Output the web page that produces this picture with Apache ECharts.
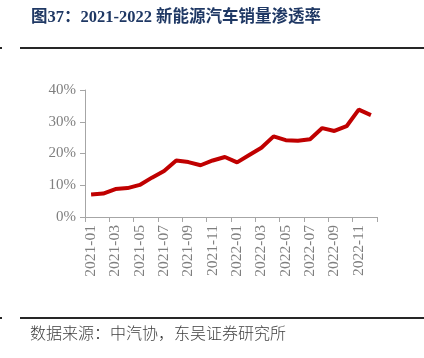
<!DOCTYPE html>
<html><head><meta charset="utf-8">
<script src="https://cdn.jsdelivr.net/npm/echarts@6/dist/echarts.min.js"></script>
<style>html,body{margin:0;padding:0;background:#fff}#c{width:424px;height:358px}</style>
</head><body><div id="c"></div>
<script>
const months = ['2021-01','2021-02','2021-03','2021-04','2021-05','2021-06','2021-07','2021-08','2021-09','2021-10','2021-11','2021-12',
'2022-01','2022-02','2022-03','2022-04','2022-05','2022-06','2022-07','2022-08','2022-09','2022-10','2022-11','2022-12'];
const penetration = [7.1,7.4,8.8,9.1,10.1,12.4,14.5,17.8,17.3,16.3,17.8,18.9,
17.2,19.5,21.8,25.4,24.2,24.0,24.5,28.0,27.1,28.6,33.8,32.1];
const yTicks = [0,10,20,30,40];
const titleText = '图37：2021-2022 新能源汽车销量渗透率';
const sourceText = '数据来源：中汽协，东吴证券研究所';

const chart = echarts.init(document.getElementById('c'));
chart.setOption({
  animation:false,
  grid:{left:85,right:47,top:90,bottom:141},
  xAxis:{type:'category',data:months,boundaryGap:true,
    axisLine:{lineStyle:{color:'#a6a6a6',width:1}},
    axisTick:{show:true,interval:1,length:5,lineStyle:{color:'#a6a6a6'}},
    axisLabel:{interval:1,rotate:90,color:'#7f7f7f',fontFamily:'Liberation Serif',fontSize:15.5,margin:8}},
  yAxis:{type:'value',min:yTicks[0],max:yTicks[yTicks.length-1],interval:10,
    axisLine:{show:true,lineStyle:{color:'#a6a6a6'}},
    axisTick:{show:true,length:5,lineStyle:{color:'#a6a6a6'}},
    splitLine:{show:false},
    axisLabel:{formatter:v=>v+'%',color:'#7f7f7f',fontFamily:'Liberation Serif',fontSize:15,margin:9}},
  series:[{type:'line',data:penetration,symbol:'none',lineStyle:{color:'#c00000',width:4},itemStyle:{color:'#c00000'}}],
  graphic:[
    {type:'text',left:31,top:9,style:{text:titleText,fill:'#1f3864',font:'bold 16.5px "Liberation Serif","Noto Sans CJK SC"'}},
    {type:'rect',shape:{x:20,y:47,width:404,height:2},style:{fill:'#262626'}},
    {type:'rect',shape:{x:0,y:47,width:2,height:2},style:{fill:'#262626'}},
    {type:'rect',shape:{x:20,y:317,width:404,height:2},style:{fill:'#262626'}},
    {type:'rect',shape:{x:0,y:317,width:2,height:2},style:{fill:'#262626'}},
    {type:'text',left:30,top:325,style:{text:sourceText,fill:'#404040',font:'300 16px "Noto Sans CJK SC"'}}
  ]
});
</script></body></html>
